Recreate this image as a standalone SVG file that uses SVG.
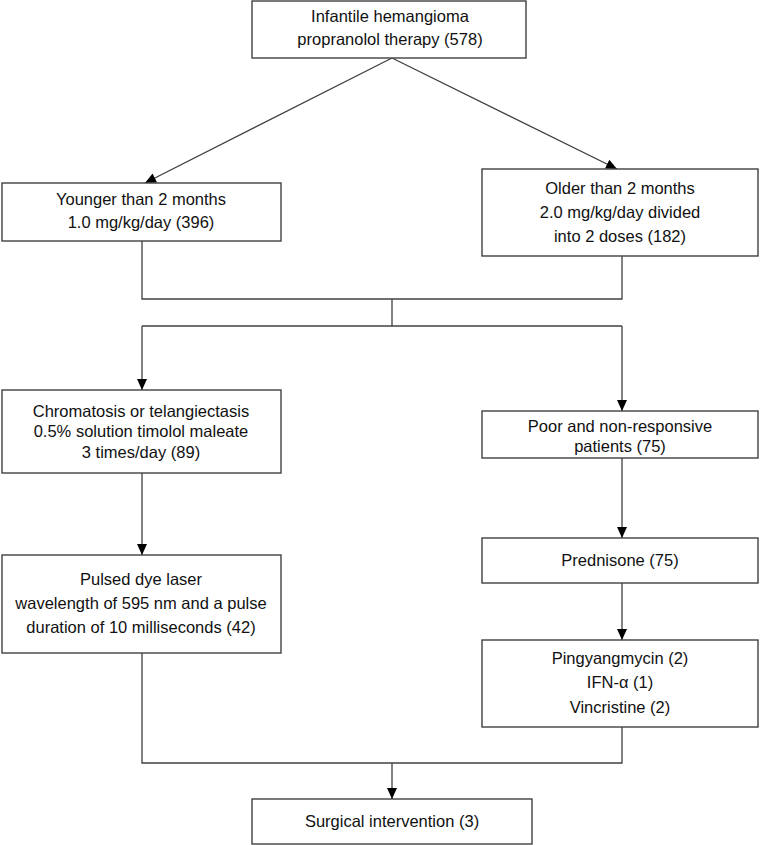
<svg xmlns="http://www.w3.org/2000/svg" width="762" height="845" viewBox="0 0 762 845">
<defs>
<style>
.box{fill:#fff;stroke:#404040;stroke-width:1.4}
.ln{fill:none;stroke:#404040;stroke-width:1.3}
text{font-family:"Liberation Sans",Arial,sans-serif;font-size:16.5px;fill:#111;text-anchor:middle}
</style>
<marker id="ah" markerUnits="userSpaceOnUse" markerWidth="12" markerHeight="12" viewBox="0 0 12 12" refX="11" refY="6" orient="auto">
<path d="M0,1 L11,6 L0,11 z" fill="#000"/>
</marker>
</defs>
<rect width="762" height="845" fill="#fff"/>
<g id="connectors">
<line class="ln" x1="392" y1="58" x2="145" y2="183" marker-end="url(#ah)"/>
<line class="ln" x1="392" y1="58" x2="617" y2="169" marker-end="url(#ah)"/>
<polyline class="ln" points="142,241 142,299 622,299 622,256"/>
<line class="ln" x1="392" y1="299" x2="392" y2="326"/>
<line class="ln" x1="142" y1="326" x2="622" y2="326"/>
<line class="ln" x1="142" y1="326" x2="142" y2="390" marker-end="url(#ah)"/>
<line class="ln" x1="622" y1="326" x2="622" y2="411" marker-end="url(#ah)"/>
<line class="ln" x1="142" y1="473" x2="142" y2="555" marker-end="url(#ah)"/>
<line class="ln" x1="622" y1="458" x2="622" y2="538" marker-end="url(#ah)"/>
<line class="ln" x1="622" y1="583" x2="622" y2="640" marker-end="url(#ah)"/>
<polyline class="ln" points="142,653 142,763 622,763 622,727"/>
<line class="ln" x1="392" y1="763" x2="392" y2="799" marker-end="url(#ah)"/>
</g>
<g id="n-top">
<rect class="box" x="252" y="1" width="274" height="57"/>
<text x="390" y="22">Infantile hemangioma</text>
<text x="390" y="45">propranolol therapy (578)</text>
</g>
<g id="n-younger">
<rect class="box" x="2" y="183" width="279" height="58"/>
<text x="141" y="205">Younger than 2 months</text>
<text x="141" y="228">1.0 mg/kg/day (396)</text>
</g>
<g id="n-older">
<rect class="box" x="482" y="169" width="276" height="87"/>
<text x="620" y="194">Older than 2 months</text>
<text x="620" y="218">2.0 mg/kg/day divided</text>
<text x="620" y="242">into 2 doses (182)</text>
</g>
<g id="n-chromatosis">
<rect class="box" x="2" y="390" width="279" height="83"/>
<text x="141" y="417">Chromatosis or telangiectasis</text>
<text x="141" y="437">0.5% solution timolol maleate</text>
<text x="141" y="458">3 times/day (89)</text>
</g>
<g id="n-poor">
<rect class="box" x="482" y="411" width="276" height="47"/>
<text x="620" y="432">Poor and non-responsive</text>
<text x="620" y="452">patients (75)</text>
</g>
<g id="n-prednisone">
<rect class="box" x="482" y="538" width="276" height="45"/>
<text x="620" y="566">Prednisone (75)</text>
</g>
<g id="n-pulsed">
<rect class="box" x="2" y="555" width="279" height="98"/>
<text x="141" y="585">Pulsed dye laser</text>
<text x="141" y="609">wavelength of 595 nm and a pulse</text>
<text x="141" y="633">duration of 10 milliseconds (42)</text>
</g>
<g id="n-pingyang">
<rect class="box" x="482" y="640" width="276" height="87"/>
<text x="620" y="664">Pingyangmycin (2)</text>
<text x="620" y="688">IFN-α (1)</text>
<text x="620" y="713">Vincristine (2)</text>
</g>
<g id="n-surgical">
<rect class="box" x="252" y="799" width="280" height="45"/>
<text x="392" y="827">Surgical intervention (3)</text>
</g>
</svg>
